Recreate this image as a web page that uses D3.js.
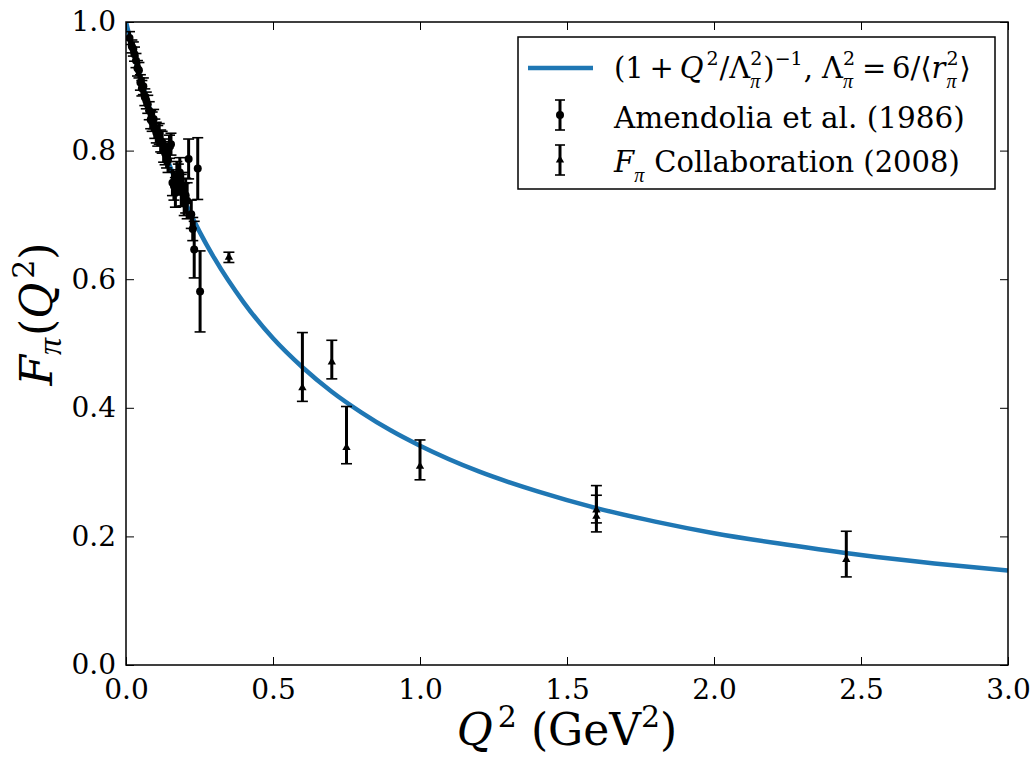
<!DOCTYPE html>
<html>
<head>
<meta charset="utf-8">
<script src="https://cdn.jsdelivr.net/npm/d3@7"></script>
<style>
  body { margin: 0; background: #fff; }
  svg text { font-family: "DejaVu Serif", serif; fill: #000; }
  svg text.pi, svg tspan.pi { font-family: "Liberation Serif", serif; font-style: italic; }
</style>
</head>
<body>
<div id="chart"></div>
<script>
// Monopole curve, sampled values (Q^2 in GeV^2, F_pi)
const curveQ2 = [0, 0.02, 0.05, 0.1, 0.15, 0.2, 0.25, 0.3, 0.4, 0.5, 0.6, 0.7, 0.8, 0.9, 1.0,
                 1.2, 1.4, 1.6, 1.8, 2.0, 2.25, 2.5, 2.75, 3.0];
const curveF = [1.000, 0.963, 0.912, 0.838, 0.775, 0.721, 0.674, 0.633, 0.564, 0.508, 0.463, 0.425,
                0.393, 0.365, 0.341, 0.301, 0.270, 0.244, 0.223, 0.205, 0.187, 0.171, 0.158, 0.147];

// Amendolia et al. (1986)
const amQ2 = [0.012, 0.020, 0.025, 0.029, 0.034, 0.039, 0.044, 0.049, 0.054, 0.059, 0.064, 0.069,
              0.074, 0.079, 0.084, 0.089, 0.094, 0.098, 0.103, 0.108, 0.113, 0.118, 0.123, 0.128,
              0.133, 0.138, 0.143, 0.148, 0.153, 0.158, 0.163, 0.168, 0.173, 0.178, 0.183, 0.188,
              0.193, 0.198, 0.203, 0.208, 0.213, 0.222, 0.227, 0.232, 0.244, 0.252];
const amF = [0.975, 0.962, 0.958, 0.950, 0.940, 0.928, 0.925, 0.906, 0.897, 0.900, 0.883, 0.878,
             0.872, 0.862, 0.848, 0.845, 0.849, 0.834, 0.828, 0.823, 0.826, 0.815, 0.813, 0.800,
             0.796, 0.792, 0.785, 0.806, 0.810, 0.750, 0.745, 0.735, 0.760, 0.755, 0.766, 0.738,
             0.740, 0.724, 0.730, 0.722, 0.787, 0.701, 0.678, 0.646, 0.772, 0.581];
const amErr = [0.010, 0.010, 0.011, 0.011, 0.011, 0.012, 0.012, 0.012, 0.012, 0.013, 0.013, 0.013,
               0.014, 0.014, 0.014, 0.015, 0.015, 0.015, 0.016, 0.016, 0.016, 0.017, 0.017, 0.018,
               0.018, 0.019, 0.019, 0.018, 0.017, 0.020, 0.022, 0.023, 0.023, 0.024, 0.023, 0.025,
               0.026, 0.025, 0.027, 0.028, 0.031, 0.022, 0.018, 0.044, 0.048, 0.063];

// F_pi Collaboration (2008), asymmetric errors
const fpQ2 = [0.35, 0.60, 0.70, 0.75, 1.00, 1.60, 1.60, 2.45];
const fpF = [0.634, 0.431, 0.471, 0.338, 0.309, 0.241, 0.231, 0.164];
const fpLow = [0.626, 0.410, 0.445, 0.313, 0.288, 0.207, 0.221, 0.137];
const fpHigh = [0.642, 0.517, 0.505, 0.402, 0.350, 0.279, 0.264, 0.208];

const xTicks = [0, 0.5, 1.0, 1.5, 2.0, 2.5, 3.0];
const yTicks = [0, 0.2, 0.4, 0.6, 0.8, 1.0];

const W = 1036, H = 758;
const margin = { top: 22, right: 28, bottom: 93, left: 126 };
const width = W - margin.left - margin.right;
const height = H - margin.top - margin.bottom;
const blue = "#1f77b4";

const svg = d3.select("#chart").append("svg")
    .attr("width", W)
    .attr("height", H);

const g = svg.append("g")
    .attr("transform", `translate(${margin.left},${margin.top})`);

const x = d3.scaleLinear().domain([0, 3]).range([0, width]);
const y = d3.scaleLinear().domain([0, 1]).range([height, 0]);

// clip to plot area
svg.append("defs").append("clipPath").attr("id", "clip")
    .append("rect").attr("width", width).attr("height", height);

const plot = g.append("g").attr("clip-path", "url(#clip)");

// curve
const curve = curveQ2.map((q, i) => [q, curveF[i]]);
plot.append("path")
    .datum(curve)
    .attr("fill", "none")
    .attr("stroke", blue)
    .attr("stroke-width", 4.5)
    .attr("d", d3.line().x(d => x(d[0])).y(d => y(d[1])).curve(d3.curveMonotoneX));

// error bar helper
function errorBars(sel, data, capW) {
    const eb = sel.selectAll(null).data(data).enter().append("g");
    eb.append("line")
        .attr("x1", d => x(d.q)).attr("x2", d => x(d.q))
        .attr("y1", d => y(d.lo)).attr("y2", d => y(d.hi))
        .attr("stroke", "#000").attr("stroke-width", 3);
    eb.append("line")
        .attr("x1", d => x(d.q) - capW).attr("x2", d => x(d.q) + capW)
        .attr("y1", d => y(d.lo)).attr("y2", d => y(d.lo))
        .attr("stroke", "#000").attr("stroke-width", 1.6);
    eb.append("line")
        .attr("x1", d => x(d.q) - capW).attr("x2", d => x(d.q) + capW)
        .attr("y1", d => y(d.hi)).attr("y2", d => y(d.hi))
        .attr("stroke", "#000").attr("stroke-width", 1.6);
}

const amData = amQ2.map((q, i) => ({ q, f: amF[i], lo: amF[i] - amErr[i], hi: amF[i] + amErr[i] }));
const fpData = fpQ2.map((q, i) => ({ q, f: fpF[i], lo: fpLow[i], hi: fpHigh[i] }));

errorBars(plot, amData, 5.5);
plot.selectAll(".am").data(amData).enter().append("circle")
    .attr("class", "am")
    .attr("cx", d => x(d.q)).attr("cy", d => y(d.f))
    .attr("r", 4).attr("fill", "#000");

errorBars(plot, fpData, 5.5);
const tri = d3.symbol().type(d3.symbolTriangle).size(30);
plot.selectAll(".fp").data(fpData).enter().append("path")
    .attr("class", "fp")
    .attr("transform", d => `translate(${x(d.q)},${y(d.f)})`)
    .attr("d", tri).attr("fill", "#000");

// axes (ticks inside, on all four sides)
const fmt = d3.format(".1f");
const tickLen = 8;
const axB = g.append("g").attr("transform", `translate(0,${height})`)
    .call(d3.axisBottom(x).tickValues(xTicks).tickFormat(fmt).tickSizeInner(-tickLen).tickSizeOuter(0).tickPadding(14));
const axT = g.append("g")
    .call(d3.axisTop(x).tickValues(xTicks).tickFormat("").tickSizeInner(-tickLen).tickSizeOuter(0));
const axL = g.append("g")
    .call(d3.axisLeft(y).tickValues(yTicks).tickFormat(fmt).tickSizeInner(-tickLen).tickSizeOuter(0).tickPadding(10));
const axR = g.append("g").attr("transform", `translate(${width},0)`)
    .call(d3.axisRight(y).tickValues(yTicks).tickFormat("").tickSizeInner(-tickLen).tickSizeOuter(0));

[axB, axT, axL, axR].forEach(a => {
    a.select(".domain").remove();
    a.selectAll(".tick line").attr("stroke", "#000").attr("stroke-width", 1);
    a.selectAll(".tick text").style("font-size", "28px").style("font-family", "DejaVu Serif");
});
axB.selectAll(".tick text").attr("dy", "0.71em");

// frame
g.append("rect")
    .attr("width", width).attr("height", height)
    .attr("fill", "none").attr("stroke", "#000").attr("stroke-width", 1.5);

// axis labels
const xl = svg.append("text")
    .attr("x", margin.left + width / 2)
    .attr("y", 745)
    .attr("text-anchor", "middle")
    .style("font-size", "44px");
xl.append("tspan").style("font-style", "italic").text("Q");
xl.append("tspan").attr("dx", 5).attr("dy", -18).style("font-size", "30px").text("2");
xl.append("tspan").attr("dy", 18).text("\u00a0(GeV");
xl.append("tspan").attr("dy", -18).style("font-size", "30px").text("2");
xl.append("tspan").attr("dy", 18).text(")");

const yl = svg.append("text")
    .attr("transform", `translate(52,314) rotate(-90)`)
    .attr("text-anchor", "middle")
    .style("font-size", "44px");
yl.append("tspan").style("font-style", "italic").text("F");
yl.append("tspan").attr("class", "pi").attr("dy", 9).style("font-size", "34px").text("π");
yl.append("tspan").attr("dx", 2).attr("dy", -9).text("(");
yl.append("tspan").style("font-style", "italic").text("Q");
yl.append("tspan").attr("dx", 4).attr("dy", -18).style("font-size", "30px").text("2");
yl.append("tspan").attr("dy", 18).text(")");

// legend
const leg = svg.append("g");
leg.append("rect")
    .attr("x", 518).attr("y", 37).attr("width", 477).attr("height", 152)
    .attr("fill", "#fff").attr("stroke", "#000").attr("stroke-width", 1.5);

leg.append("line")
    .attr("x1", 528).attr("x2", 593).attr("y1", 68).attr("y2", 68)
    .attr("stroke", blue).attr("stroke-width", 4.5);

function legBar(cy) {
    leg.append("line").attr("x1", 560).attr("x2", 560).attr("y1", cy - 15).attr("y2", cy + 15)
        .attr("stroke", "#000").attr("stroke-width", 3);
    [cy - 15, cy + 15].forEach(yy => leg.append("line")
        .attr("x1", 555).attr("x2", 565).attr("y1", yy).attr("y2", yy)
        .attr("stroke", "#000").attr("stroke-width", 1.6));
}
legBar(115);
leg.append("circle").attr("cx", 560).attr("cy", 115).attr("r", 4).attr("fill", "#000");
legBar(160);
leg.append("path").attr("transform", "translate(560,160)").attr("d", tri).attr("fill", "#000");

const fs = 29, subFs = 19;

// lay out a math row piece by piece; stacked sup/sub share an x position
function mathRow(parent, x0, y0, parts) {
    let cx = x0;
    parts.forEach(p => {
        if (p.sup !== undefined || p.sub !== undefined) {
            let w = 0;
            if (p.sup !== undefined) {
                const a = parent.append("text").attr("x", cx).attr("y", y0 - 13)
                    .style("font-size", subFs + "px").text(p.sup);
                w = Math.max(w, a.node().getComputedTextLength());
            }
            if (p.sub !== undefined) {
                const b = parent.append("text").attr("class", "pi").attr("x", cx).attr("y", y0 + 10)
                    .style("font-size", "20px").text(p.sub);
                w = Math.max(w, b.node().getComputedTextLength());
            }
            cx += w + 1;
        } else {
            const t = parent.append("text").attr("x", cx).attr("y", y0)
                .style("font-size", fs + "px")
                .style("font-style", p.it ? "italic" : "normal")
                .text(p.t);
            cx += t.node().getComputedTextLength() + (p.gap || 0);
        }
    });
}

mathRow(leg, 614, 78, [
    { t: "(1" }, { t: "\u2009+\u2009" }, { t: "Q", it: true, gap: 3 }, { sup: "2" },
    { t: "/Λ" }, { sup: "2", sub: "π" }, { t: ")" }, { sup: "−1" },
    { t: ", Λ" }, { sup: "2", sub: "π" }, { t: "\u2009=\u20096/⟨" }, { t: "r", it: true, gap: 1 },
    { sup: "2", sub: "π" }, { t: "⟩" }
]);

leg.append("text").attr("x", 614).attr("y", 128).style("font-size", "29.5px").text("Amendolia et al. (1986)");

mathRow(leg, 614, 172, [
    { t: "F", it: true }, { sub: "π" }, { t: "\u00a0Collaboration (2008)" }
]);
</script>
</body>
</html>
